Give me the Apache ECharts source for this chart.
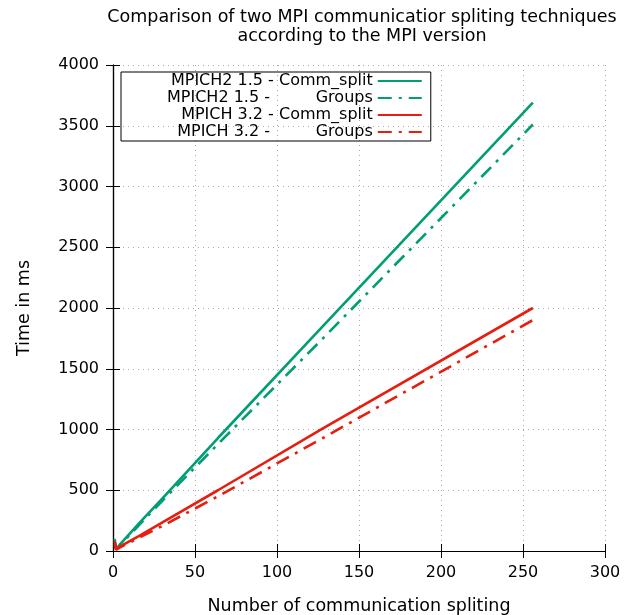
<!DOCTYPE html>
<html>
<head>
<meta charset="utf-8">
<script src="https://cdn.jsdelivr.net/npm/echarts@6/dist/echarts.min.js"></script>
<style>
  html, body { margin: 0; padding: 0; background: #fff; }
  #main { width: 637px; height: 615px; }
</style>
</head>
<body>
<div id="main"></div>
<script>
// data
var splits = [1, 2, 4, 8, 16, 32, 64, 128, 256];
var mpich2Comm = [100, 15, 50, 110, 230, 460, 930, 1850, 3690];
var mpich2Groups = [60, 15, 45, 100, 215, 440, 880, 1750, 3510];
var mpich3Comm = [80, 15, 35, 65, 125, 250, 500, 1010, 2000];
var mpich3Groups = [40, 10, 28, 55, 110, 220, 450, 930, 1900];
var seriesNames = ['MPICH2 1.5 - Comm_split', 'MPICH2 1.5 -         Groups',
                   'MPICH 3.2 - Comm_split', 'MPICH 3.2 -         Groups'];
var xTicks = [0, 50, 100, 150, 200, 250, 300];
var yTicks = [0, 500, 1000, 1500, 2000, 2500, 3000, 3500, 4000];

var green = '#009e73', red = '#e51e10';
var dashDot = [14, 7, 3, 7];

function pairs(ys) {
  return splits.map(function (x, i) { return [x, ys[i]]; });
}

function mkSeries(name, ys, color, dashed) {
  return {
    name: name,
    type: 'line',
    data: pairs(ys),
    showSymbol: false,
    symbol: 'none',
    lineStyle: { color: color, width: 2.6, type: dashed ? dashDot : 'solid' },
    itemStyle: { color: color },
    animation: false
  };
}

var font = 'DejaVu Sans';
var myChart = echarts.init(document.getElementById('main'));
var option = {
  backgroundColor: '#fff',
  animation: false,
  title: {
    text: 'Comparison of two MPI communicatior spliting techniques\naccording to the MPI version',
    left: 357, top: 3, textAlign: 'center',
    textStyle: { fontFamily: font, fontWeight: 'normal', fontSize: 17.5, color: '#000', lineHeight: 19 }
  },
  legend: {
    orient: 'vertical',
    left: 121, top: 72,
    padding: [1, 8, 1, 46],
    itemGap: 1,
    itemWidth: 44,
    itemHeight: 16,
    align: 'right',
    itemStyle: { opacity: 0 },
    borderColor: '#000', borderWidth: 1,
    data: seriesNames,
    textStyle: { fontFamily: font, fontSize: 16, color: '#000', width: 202, align: 'right' }
  },
  grid: { left: 113, right: 32, top: 65, bottom: 64, containLabel: false, outerBoundsMode: 'none' },
  xAxis: [{
    type: 'value', min: 0, max: 300, interval: 50,
    name: 'Number of communication spliting', nameLocation: 'middle', nameGap: 46,
    nameTextStyle: { fontFamily: font, fontSize: 17.5, color: '#000' },
    axisLine: { show: true, lineStyle: { color: '#000', width: 1.2 } },
    axisTick: { inside: true, length: 7, lineStyle: { color: '#000' } },
    axisLabel: { fontFamily: font, fontSize: 16, color: '#000', margin: 14,
      formatter: function (v) { return xTicks.indexOf(v) >= 0 ? String(v) : ''; } },
    splitLine: { show: true, lineStyle: { color: '#aaa', type: [1, 4], width: 1 } }
  }, {
    type: 'value', position: 'top', min: 0, max: 300, interval: 50,
    axisLine: { show: true, lineStyle: { color: '#000', width: 1.2 } },
    axisTick: { inside: true, length: 7, lineStyle: { color: '#000' } },
    axisLabel: { show: false }, splitLine: { show: false }
  }],
  yAxis: [{
    type: 'value', min: 0, max: 4000, interval: 500,
    name: 'Time in ms', nameLocation: 'middle', nameGap: 80, nameRotate: 90,
    nameTextStyle: { fontFamily: font, fontSize: 17.5, color: '#000' },
    axisLine: { show: true, lineStyle: { color: '#000', width: 1.2 } },
    axisTick: { inside: true, length: 7, lineStyle: { color: '#000' } },
    axisLabel: { fontFamily: font, fontSize: 16, color: '#000', margin: 14,
      formatter: function (v) { return yTicks.indexOf(v) >= 0 ? String(v) : ''; } },
    splitLine: { show: true, lineStyle: { color: '#aaa', type: [1, 4], width: 1 } }
  }, {
    type: 'value', position: 'right', min: 0, max: 4000, interval: 500,
    axisLine: { show: true, lineStyle: { color: '#000', width: 1.2 } },
    axisTick: { inside: true, length: 7, lineStyle: { color: '#000' } },
    axisLabel: { show: false }, splitLine: { show: false }
  }],
  series: [
    mkSeries(seriesNames[0], mpich2Comm, green, false),
    mkSeries(seriesNames[1], mpich2Groups, green, true),
    mkSeries(seriesNames[2], mpich3Comm, red, false),
    mkSeries(seriesNames[3], mpich3Groups, red, true)
  ]
};
myChart.setOption(option);
</script>
</body>
</html>
